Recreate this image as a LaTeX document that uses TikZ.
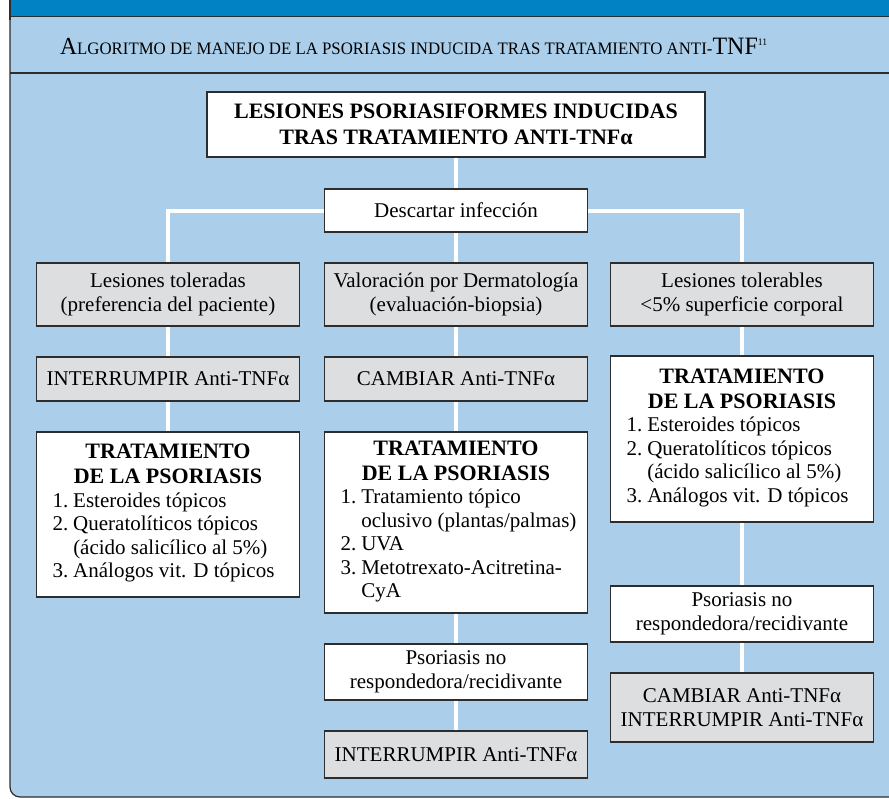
\documentclass[tikz,border=0pt]{standalone}
\usepackage{fontspec}
\setmainfont{Liberation Serif}
\newfontfamily\boxfont{Liberation Serif}
\newfontfamily\titlefont{Liberation Serif}[FakeStretch=0.96]
\usetikzlibrary{backgrounds}

\definecolor{bandblue}{RGB}{0,130,196}
\definecolor{paleblue}{RGB}{171,207,235}
\definecolor{boxgray}{RGB}{221,222,224}
\definecolor{edgegray}{RGB}{45,45,45}

% body of a treatment box: bold heading, then numbered list
\newcommand{\tratbox}[1]{%
  \begin{minipage}{231pt}
    \centering{\bfseries\fontsize{22}{25}\selectfont TRATAMIENTO\\DE LA PSORIASIS\par}
    \raggedright\fontsize{21}{23.5}\selectfont
    \begin{tabular}[t]{@{}l@{\hspace{5pt}}l@{}}#1\end{tabular}
  \end{minipage}}

\begin{document}
\begin{tikzpicture}[x=1pt, y=-1pt,
    box/.style={draw=edgegray, line width=1.1pt, align=center, inner sep=0pt,
      minimum width=263pt, font=\boxfont\fontsize{21}{24.5}\selectfont},
    graybox/.style={box, fill=boxgray},
    whitebox/.style={box, fill=white},
    link/.style={draw=white, line width=4pt}]
    \useasboundingbox (0,0) rectangle (889,798);

    % Heading and top box
    \node[anchor=base west, inner sep=0pt] (title) at (60,54) {\titlefont
      \fontsize{24.5}{24.5}\selectfont A\fontsize{17.5}{17.5}\selectfont LGORITMO DE MANEJO DE LA PSORIASIS INDUCIDA TRAS TRATAMIENTO ANTI-\fontsize{25}{25}\selectfont TNF\raisebox{9pt}{\fontsize{10}{10}\selectfont 11}};
    \node[whitebox, minimum width=498pt, minimum height=65pt,
      font=\boxfont\bfseries\fontsize{22}{26}\selectfont] (top) at (456,124.5)
      {LESIONES PSORIASIFORMES INDUCIDAS\\TRAS TRATAMIENTO ANTI-TNFα};
    \node[whitebox, minimum height=43pt] (desc) at (456,210.5) {Descartar infección};

    % Left column
    \node[graybox, minimum height=63pt] (lt) at (168,294.5) {Lesiones toleradas\\(preferencia del paciente)};
    \node[graybox, minimum height=44pt] (intl) at (168,379) {INTERRUMPIR Anti-TNFα};
    \node[whitebox, minimum height=165pt] (tratl) at (168,514.5) {\tratbox{%
      1. & Esteroides tópicos\\
      2. & Queratolíticos tópicos\\
         & (ácido salicílico al 5\%)\\
      3. & Análogos vit. D tópicos}};

    % Middle column
    \node[graybox, minimum height=63pt] (val) at (456,294.5) {Valoración por Dermatología\\(evaluación-biopsia)};
    \node[graybox, minimum height=44pt] (camb) at (456,379) {CAMBIAR Anti-TNFα};
    \node[whitebox, minimum height=181pt] (tratm) at (456,522.5) {\tratbox{%
      1. & Tratamiento tópico\\
         & oclusivo (plantas/palmas)\\
      2. & UVA\\
      3. & Metotrexato-Acitretina-\\
         & CyA}};
    \node[whitebox, minimum height=56pt] (psom) at (456,672) {Psoriasis no\\respondedora/recidivante};
    \node[graybox, minimum height=47pt] (intm) at (456,754.5) {INTERRUMPIR Anti-TNFα};

    % Right column
    \node[graybox, minimum height=63pt] (ltb) at (742,294.5) {Lesiones tolerables\\<5\% superficie corporal};
    \node[whitebox, minimum height=166pt] (tratr) at (742,439) {\tratbox{%
      1. & Esteroides tópicos\\
      2. & Queratolíticos tópicos\\
         & (ácido salicílico al 5\%)\\
      3. & Análogos vit. D tópicos}};
    \node[whitebox, minimum height=56pt] (psor) at (742,614) {Psoriasis no\\respondedora/recidivante};
    \node[graybox, minimum height=69pt] (finr) at (742,707.5) {CAMBIAR Anti-TNFα\\INTERRUMPIR Anti-TNFα};

    \begin{scope}[on background layer]
      % Panel and bands
      \draw[edgegray, line width=1.2pt, fill=paleblue, rounded corners=10pt] (10,-10) rectangle (905,797);
      \fill[bandblue] (10,0) rectangle (905,16);
      \draw[edgegray, line width=1pt] (10,16) -- (905,16);
      \draw[edgegray, line width=2.2pt] (10,73) -- (905,73);
      \draw[edgegray, line width=1.2pt] (10,0) -- (10,20);

      % Connectors
      \draw[link] (top) -- (desc);
      \draw[link] (desc) -- (val);
      \draw[link] (desc.west) -| (lt.north);
      \draw[link] (desc.east) -| (ltb.north);
      \draw[link] (lt) -- (intl);
      \draw[link] (intl) -- (tratl);
      \draw[link] (val) -- (camb);
      \draw[link] (camb) -- (tratm);
      \draw[link] (tratm) -- (psom);
      \draw[link] (psom) -- (intm);
      \draw[link] (ltb) -- (tratr);
      \draw[link] (tratr) -- (psor);
      \draw[link] (psor) -- (finr);
    \end{scope}
\end{tikzpicture}
\end{document}
